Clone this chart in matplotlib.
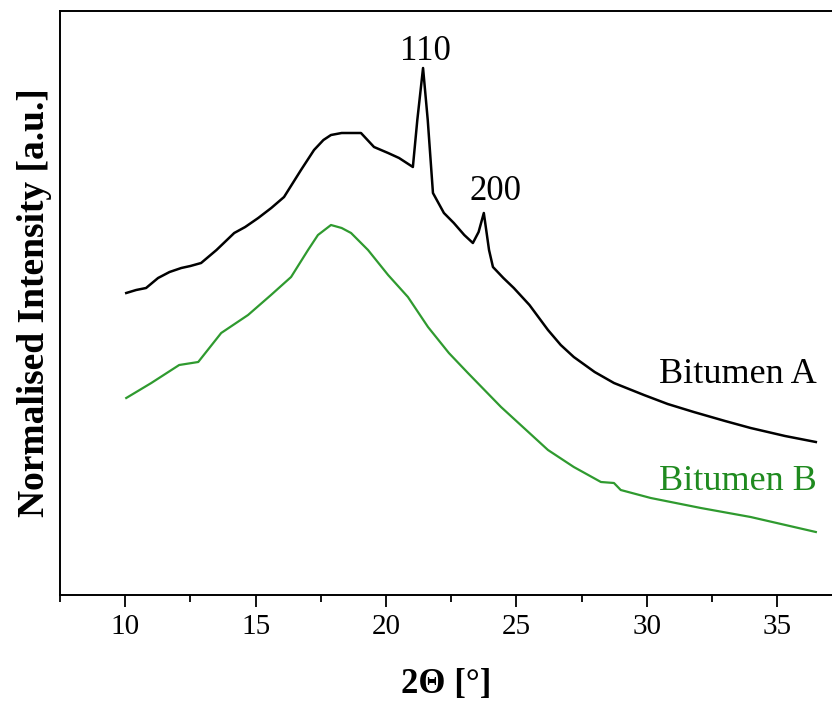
import matplotlib
matplotlib.use("Agg")
import matplotlib.pyplot as plt
from matplotlib.ticker import MultipleLocator

plt.rcParams["font.family"] = ["Liberation Serif", "DejaVu Serif"]

# XRD patterns, intensity in arbitrary (normalised, offset) units
two_theta_a = [10.04, 10.42, 10.8, 11.26, 11.7, 12.15, 12.5, 12.91, 13.5, 14.18,
               14.6, 15.1, 15.6, 16.09, 16.74, 17.24, 17.6, 17.89, 18.3, 18.66,
               19.04, 19.54, 20.08, 20.5, 21.03, 21.2, 21.42, 21.6, 21.8, 22.22,
               22.6, 23.0, 23.33, 23.55, 23.75, 23.95, 24.1, 24.5, 24.9, 25.5,
               26.21, 26.7, 27.2, 28.0, 28.74, 29.89, 30.8, 31.8, 33.0, 33.98,
               35.3, 36.48]
intensity_a = [302, 305, 307, 317, 323, 327, 329, 332, 345, 362,
               368, 377, 387, 398, 425, 445, 455, 460, 462, 462,
               462, 448, 442, 437, 428, 475, 527, 475, 402, 382,
               372, 360, 352, 363, 382, 345, 328, 317, 307, 290,
               265, 250, 238, 223, 212, 200, 191, 183, 174, 167,
               159, 153]

two_theta_b = [10.04, 11.0, 12.07, 12.8, 13.68, 14.71, 15.59, 16.36, 17.01, 17.39,
               17.89, 18.3, 18.66, 19.31, 20.08, 20.84, 21.61, 22.41, 23.14, 24.41,
               26.21, 27.2, 28.24, 28.74, 29.0, 30.15, 32.07, 33.98, 36.48]
intensity_b = [197, 212, 230, 233, 262, 280, 300, 318, 345, 360,
               370, 367, 362, 345, 320, 298, 268, 242, 222, 188,
               145, 128, 113, 112, 105, 97, 87, 78, 63]

peak_labels = ["110", "200"]
peak_x = [21.53, 24.21]
peak_y = [535, 395]

green = "#2f9a2f"

fig = plt.figure(figsize=(8.32, 7.03), dpi=100)
ax = fig.add_axes([60 / 832, 1 - 595 / 703, 1 - 60 / 832, (595 - 11) / 703])

ax.plot(two_theta_a, intensity_a, color="black", lw=1.8)
ax.plot(two_theta_b, intensity_b, color=green, lw=1.6)

for lab, px, py in zip(peak_labels, peak_x, peak_y):
    ax.text(px, py, lab, ha="center", va="baseline", fontsize=25)

ax.text(36.5, 212, "Bitumen A", ha="right", va="baseline", fontsize=26)
ax.text(36.5, 105, "Bitumen B", ha="right", va="baseline", fontsize=26, color="#1f8a1f")

ax.set_xlim(7.5, 37.1)
ax.set_ylim(0, 584)
ax.xaxis.set_major_locator(MultipleLocator(5))
ax.xaxis.set_minor_locator(MultipleLocator(2.5))
ax.set_yticks([])
ax.tick_params(axis="x", which="major", direction="out", length=8.5, width=1.3,
               labelsize=21, pad=5)
ax.tick_params(axis="x", which="minor", direction="out", length=5, width=1.3)
for side in ["left", "top", "bottom"]:
    ax.spines[side].set_linewidth(1.4)
ax.spines["right"].set_visible(False)

ax.set_xlabel("2Θ [°]", fontsize=25, fontweight="bold", labelpad=20)
ax.set_ylabel("Normalised Intensity [a.u.]", fontsize=27, fontweight="bold", labelpad=6)

fig.savefig("out.png", dpi=100)
